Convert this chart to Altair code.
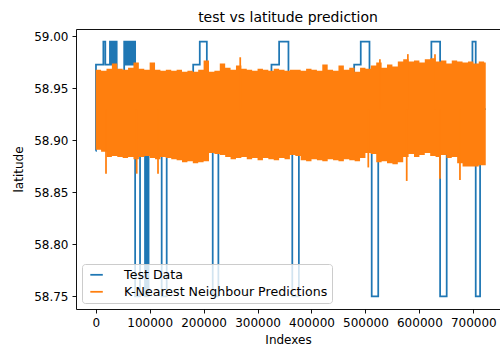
import altair as alt
import pandas as pd

BLUE = "#1f77b4"
ORANGE = "#ff7f0e"
FONT = "DejaVu Sans"

# Test data (true latitude) as step changes: index where a level starts, level value
test_idx = [0, 500, 14200, 17800,
            26400, 27600, 28400, 29600, 30400, 31600, 32400, 33600, 34400, 35600, 36400, 37600, 38400, 38900,
            52800, 54000, 54800, 56000, 56800, 58000, 58800, 60000, 60800, 62000, 62800, 64000, 64800,
            66000, 66800, 68000, 68800, 70000, 70800,
            73100, 82200, 91400, 94000, 95500, 98000, 99500, 122300, 131600,
            180700, 192900, 206000, 216900, 227400, 325800, 340000, 357300, 364400, 376600,
            479100, 491300, 507500, 511600, 523700, 616100, 622200, 638400, 650600, 698300,
            704400, 712500, 723000]
test_lat = [58.89, 58.973, 58.995, 58.973,
            58.995, 58.973, 58.995, 58.973, 58.995, 58.973, 58.995, 58.973, 58.995, 58.973, 58.995, 58.973, 58.995, 58.93,
            58.995, 58.973, 58.995, 58.973, 58.995, 58.973, 58.995, 58.973, 58.995, 58.973, 58.995, 58.973, 58.995,
            58.973, 58.995, 58.973, 58.995, 58.973, 58.995,
            58.75, 58.93, 58.75, 58.93, 58.75, 58.93, 58.93, 58.75, 58.93,
            58.973, 58.995, 58.93, 58.75, 58.93, 58.973, 58.995, 58.93, 58.75, 58.93,
            58.973, 58.995, 58.93, 58.75, 58.93, 58.973, 58.995, 58.75, 58.93, 58.995,
            58.75, 58.93, 58.93]

# K-NN predictions: envelope of the dense prediction trace, read every 10000 indexes
pred_idx = list(range(0, 730000, 10000))[:73] + [723000]
pred_upper = [58.968, 58.967, 58.969, 58.974, 58.969, 58.968, 58.970, 58.975, 58.969, 58.968,
              58.975, 58.968, 58.967, 58.968, 58.967, 58.968, 58.966, 58.967, 58.966, 58.968,
              58.977, 58.966, 58.967, 58.974, 58.970, 58.968, 58.972, 58.969, 58.968, 58.967,
              58.969, 58.968, 58.967, 58.969, 58.968, 58.967, 58.968, 58.968, 58.967, 58.969,
              58.968, 58.967, 58.973, 58.968, 58.967, 58.972, 58.968, 58.970, 58.966, 58.970,
              58.969, 58.972, 58.975, 58.970, 58.973, 58.971, 58.976, 58.978, 58.976, 58.977,
              58.975, 58.978, 58.979, 58.976, 58.977, 58.974, 58.977, 58.976, 58.975, 58.976,
              58.974, 58.976, 58.975, 58.975]
pred_lower = [58.891, 58.889, 58.884, 58.885, 58.884, 58.883, 58.884, 58.882, 58.884, 58.885,
              58.883, 58.882, 58.884, 58.883, 58.882, 58.881, 58.879, 58.880, 58.878, 58.879,
              58.880, 58.888, 58.887, 58.886, 58.884, 58.882, 58.883, 58.884, 58.882, 58.883,
              58.881, 58.883, 58.882, 58.881, 58.883, 58.882, 58.886, 58.885, 58.881, 58.880,
              58.882, 58.881, 58.880, 58.882, 58.881, 58.880, 58.882, 58.881, 58.880, 58.883,
              58.888, 58.887, 58.879, 58.880, 58.878, 58.877, 58.879, 58.884, 58.887, 58.884,
              58.886, 58.888, 58.885, 58.884, 58.886, 58.883, 58.884, 58.878, 58.875, 58.875,
              58.875, 58.876, 58.876, 58.876]

# isolated prediction extremes sticking out of the band
spike_idx = [19100, 76000, 115500, 267900, 505300, 526800, 576500, 578600, 628900, 638100, 675200]
spike_lat = [58.868, 58.868, 58.868, 58.980, 58.874, 58.978, 58.861, 58.983, 58.983, 58.863, 58.862]

series_names = ["Test Data", "K-Nearest Neighbour Predictions"]
x_ticks = [0, 100000, 200000, 300000, 400000, 500000, 600000, 700000]
y_ticks = [58.75, 58.80, 58.85, 58.90, 58.95, 59.00]

test_df = pd.DataFrame({"idx": test_idx, "lat": test_lat, "series": series_names[0]})
band_df = pd.DataFrame({"idx": pred_idx, "upper": pred_upper, "lower": pred_lower})
spike_df = pd.DataFrame({"idx": spike_idx, "lat": spike_lat, "series": series_names[1]})

x_scale = alt.Scale(domain=[-36516, 749410], nice=False, zero=False)
y_scale = alt.Scale(domain=[58.7378, 59.0072], nice=False, zero=False)
y_axis = alt.Axis(values=y_ticks, format=".2f", title="latitude", titlePadding=8,
                  titleFontWeight="normal", grid=False)
color = alt.Color("series:N",
                  scale=alt.Scale(domain=series_names, range=[BLUE, ORANGE]),
                  legend=alt.Legend(title=None, orient="bottom-left", offset=6,
                                    symbolType="M-0.5,0H2", symbolSize=100,
                                    symbolStrokeWidth=1.75, labelOffset=25,
                                    labelFontSize=12.6, labelFont=FONT, labelLimit=0,
                                    rowPadding=4, padding=4.5,
                                    fillColor="rgba(255,255,255,0.8)",
                                    strokeColor="#cccccc", cornerRadius=3))

blue = alt.Chart(test_df).mark_line(interpolate="step-after", strokeWidth=1.75).encode(
    x=alt.X("idx:Q", scale=x_scale,
            axis=alt.Axis(values=x_ticks, format="d", title="Indexes", titlePadding=6,
                          titleFontWeight="normal", grid=False)),
    y=alt.Y("lat:Q", scale=y_scale, axis=y_axis),
    color=color,
)

band = alt.Chart(band_df).mark_area(interpolate="step-after", color=ORANGE, opacity=1).encode(
    x=alt.X("idx:Q", scale=x_scale, axis=None),
    y=alt.Y("upper:Q", scale=y_scale, axis=y_axis),
    y2="lower:Q",
)

spikes = alt.Chart(spike_df).mark_rule(strokeWidth=1.75).encode(
    x=alt.X("idx:Q", scale=x_scale,
            axis=alt.Axis(orient="top", labels=False, ticks=False, title=None, domain=True,
                          grid=False)),
    y=alt.Y("lat:Q", scale=y_scale, axis=y_axis),
    y2=alt.datum(58.93),
    color=color,
)

chart = alt.layer(blue, band, spikes).resolve_axis(x="independent").properties(
    width=424, height=280,
    autosize=alt.AutoSizeParams(type="none"),
    padding={"left": 76, "top": 29, "right": 0, "bottom": 39},
    title=alt.TitleParams("test vs latitude prediction", fontSize=14, fontWeight="normal",
                          font=FONT, offset=4, anchor="middle", color="black"),
).configure(background="white").configure_view(stroke=None).configure_axis(
    grid=False, domainColor="black", domainWidth=0.93, tickColor="black", tickWidth=0.93,
    tickSize=4, labelColor="black", labelFont=FONT, labelFontSize=12, labelPadding=4,
    titleColor="black", titleFont=FONT, titleFontSize=12, titleFontWeight="normal",
)

chart.save("out.html", embed_options={"renderer": "svg", "actions": False})
